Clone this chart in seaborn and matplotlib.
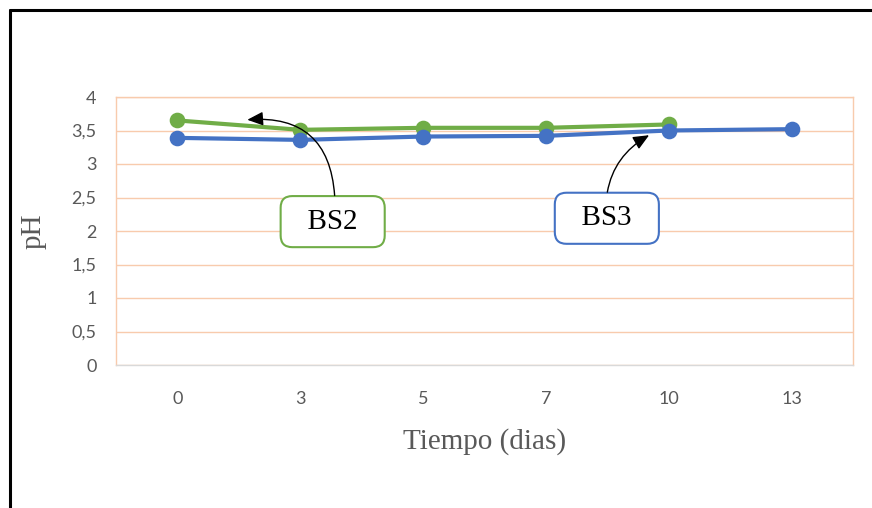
import matplotlib
matplotlib.use("Agg")
import matplotlib.pyplot as plt
from matplotlib.lines import Line2D
import seaborn as sns
import pandas as pd

# pH readings over storage time
dias = ["0", "3", "5", "7", "10", "13"]
ph_bs2 = [3.65, 3.51, 3.54, 3.54, 3.59]
ph_bs3 = [3.39, 3.36, 3.41, 3.42, 3.50, 3.52]
y_ticks = [0, 0.5, 1, 1.5, 2, 2.5, 3, 3.5, 4]
y_tick_labels = ["0", "0,5", "1", "1,5", "2", "2,5", "3", "3,5", "4"]

verde = "#70AD47"
azul = "#4472C4"
rejilla = "#F8CBAD"
gris = "#595959"

df = pd.concat([
    pd.DataFrame({"dias": dias[:len(ph_bs2)], "pH": ph_bs2, "serie": "BS2"}),
    pd.DataFrame({"dias": dias[:len(ph_bs3)], "pH": ph_bs3, "serie": "BS3"}),
], ignore_index=True)

sns.set_theme(style="white")
plt.rcParams["font.family"] = ["Liberation Serif", "DejaVu Serif"]

fig = plt.figure(figsize=(8.72, 5.08), dpi=100)
ax = fig.add_axes([116 / 872, 1 - 365 / 508, (853 - 116) / 872, (365 - 97) / 508])

sns.pointplot(data=df, x="dias", y="pH", hue="serie", order=dias,
              hue_order=["BS2", "BS3"], palette={"BS2": verde, "BS3": azul},
              errorbar=None, markers="o", linewidth=3, markersize=9,
              legend=False, ax=ax)

ax.set_xlim(-0.5, len(dias) - 0.5)
ax.set_ylim(0, 4)
ax.set_yticks(y_ticks)
ax.set_yticklabels(y_tick_labels)
ax.yaxis.grid(True, color=rejilla, linewidth=1)
ax.xaxis.grid(False)
ax.set_axisbelow(True)
for lado in ["left", "right", "top"]:
    ax.spines[lado].set_color(rejilla)
    ax.spines[lado].set_linewidth(1)
ax.spines["bottom"].set_color("#D9D9D9")
ax.spines["bottom"].set_linewidth(1)

tick_font = ["Lato", "DejaVu Sans"]
ax.tick_params(axis="both", length=0, labelcolor=gris, labelsize=13)
ax.tick_params(axis="x", pad=19)
ax.tick_params(axis="y", pad=14)
for lab in ax.get_xticklabels() + ax.get_yticklabels():
    lab.set_family(tick_font)

ax.set_xlabel("Tiempo (dias)", fontsize=21, color=gris, labelpad=15)
ax.set_ylabel("pH", fontsize=21, color=gris, labelpad=18)

# Series callouts
caja = dict(boxstyle="round,pad=0.43,rounding_size=0.4", facecolor="white",
            linewidth=1.5)
ax.text(1.264, 2.14, "  BS2  ", ha="center", va="center", fontsize=21,
        color="black", bbox=dict(caja, edgecolor=verde), zorder=6)
ax.text(3.496, 2.19, "  BS3  ", ha="center", va="center", fontsize=21,
        color="black", bbox=dict(caja, edgecolor=azul), zorder=6)

flecha = dict(arrowstyle="-|>,head_length=0.8,head_width=0.35", color="black",
              linewidth=1, shrinkA=0, shrinkB=0)
ax.annotate("", xy=(0.569, 3.66), xytext=(1.28, 2.53),
            arrowprops=dict(flecha, connectionstyle="arc3,rad=0.5"), zorder=7)
ax.annotate("", xy=(3.84, 3.43), xytext=(3.50, 2.58),
            arrowprops=dict(flecha, connectionstyle="angle3,angleA=80,angleB=30"),
            zorder=7)

# Frame edges
fig.add_artist(Line2D([9.5 / 872, 9.5 / 872], [0, 1 - 9.5 / 508],
                      transform=fig.transFigure, color="black", linewidth=2.2))
fig.add_artist(Line2D([9.5 / 872, 1], [1 - 10 / 508, 1 - 10 / 508],
                      transform=fig.transFigure, color="black", linewidth=2.2))

fig.savefig("out.png", dpi=100)
